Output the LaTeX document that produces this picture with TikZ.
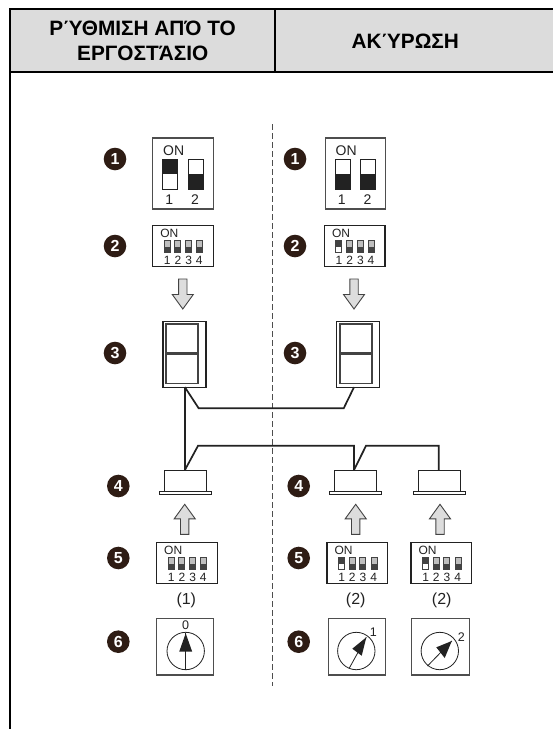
\documentclass[tikz,border=0pt]{standalone}
\usepackage{fontspec}
\setmainfont{Liberation Sans}
\usetikzlibrary{calc}
\definecolor{hdr}{HTML}{DCDCDC}
\definecolor{badgec}{HTML}{2E1C14}
\definecolor{arrowg}{HTML}{DDDDDD}
\definecolor{ink}{HTML}{222222}
\tikzset{
  badge/.style={circle,fill=badgec,text=white,font=\fontsize{16}{16}\selectfont\bfseries,minimum size=22.6pt,inner sep=0pt},
  hdrtext/.style={font=\fontsize{20.8}{25}\selectfont\bfseries,align=center,text=black},
  frameline/.style={line width=2pt,black},
  wire/.style={line width=1.7pt,ink,line join=miter},
  boxline/.style={draw=ink,line width=1.1pt,inner sep=0pt,outer sep=0pt},
  smalltext/.style={font=\fontsize{12}{12}\selectfont,text=ink,inner sep=0pt},
  bigtext/.style={font=\fontsize{14}{14}\selectfont,text=ink,inner sep=0pt},
  captext/.style={font=\fontsize{16}{16}\selectfont,text=ink,inner sep=0pt},
  dialtext/.style={font=\fontsize{12.5}{12.5}\selectfont,text=ink,inner sep=0pt},
  blockarrow/.style={draw=ink!85,line width=.9pt,fill=arrowg,line join=miter},
  dialneedle/.style={fill=ink,draw=none},
}
% 4-way DIP switch: name, x, y of top-left, first switch on (1) or off (0)
\newcommand{\dipfour}[4]{%
  \begin{scope}[shift={(#2,#3)}]
    \node[boxline,anchor=north west,minimum width=60.6pt,minimum height=41pt] (#1) at (0,0) {};
    \node[smalltext] (#1on) at (16.6,8.2) {ON};
    \foreach \i/\sx/\dx in {1/11.4/14.6,2/22/25.3,3/32.6/36,4/44/46.6}{
      \ifnum\i=1 \ifnum#4=1
        \fill[ink!85] (\sx,15.4) rectangle ++(6,6);
        \draw[ink!85,line width=.9pt] (\sx,15.4) rectangle ++(6,12);
      \else
        \fill[black!25] (\sx,15.4) rectangle ++(6,6);
        \fill[ink!85] (\sx,21.4) rectangle ++(6,6);
        \draw[ink!85,line width=.9pt] (\sx,15.4) rectangle ++(6,12);
      \fi\else
        \fill[black!25] (\sx,15.4) rectangle ++(6,6);
        \fill[ink!85] (\sx,21.4) rectangle ++(6,6);
        \draw[ink!85,line width=.9pt] (\sx,15.4) rectangle ++(6,12);
      \fi
      \node[smalltext] (#1d\i) at (\dx,34.6) {\i};
    }
  \end{scope}}
% 2-way DIP switch: name, x, first switch dark top (1) or dark bottom (0)
\newcommand{\diptwo}[3]{%
  \begin{scope}[shift={(#2,138)}]
    \node[boxline,anchor=north west,minimum width=60.4pt,minimum height=71pt,draw=ink!80] (#1) at (0,0) {};
    \node[bigtext] (#1on) at (21,12.7) {ON};
    \draw[ink,line width=.8pt] (10,21.7) rectangle ++(15,29.3);
    \draw[ink,line width=.8pt] (35.6,21.7) rectangle ++(15,29.3);
    \ifnum#3=1 \fill[ink] (10,21.7) rectangle ++(15,14.6);
    \else \fill[ink] (10,36.3) rectangle ++(15,14.7); \fi
    \fill[ink] (35.6,36.3) rectangle ++(15,14.7);
    \node[bigtext] (#1a) at (16.6,62) {1};
    \node[bigtext] (#1b) at (42.3,62) {2};
  \end{scope}}
% block arrow: centre x, tip y, direction (+1 points down, -1 points up)
\newcommand{\blockarr}[3]{%
  \draw[blockarrow] (#1,#2) -- ++(10.5,-#3*14.5) -- ++(-6.3,0) -- ++(0,-#3*15.5) -- ++(-8.4,0) -- ++(0,#3*15.5) -- ++(-6.3,0) -- cycle;}
% panel: name, x
\newcommand{\panelbox}[2]{%
  \node[boxline,anchor=north west,minimum width=43pt,minimum height=65.5pt] (#1) at (#2,321.7) {};
  \node[boxline,anchor=north west,minimum width=32pt,minimum height=29pt,line width=1.5pt,draw=ink!85] (#1up) at (#2+3,324) {};
  \node[boxline,anchor=north west,minimum width=32pt,minimum height=29pt,line width=1.5pt,draw=ink!85] (#1lo) at (#2+3,354.5) {};}
% indoor unit: name, x
\newcommand{\unitbox}[2]{%
  \node[boxline,anchor=north west,minimum width=42.4pt,minimum height=21pt,line width=1pt] (#1) at (#2,470) {};
  \node[boxline,anchor=north west,minimum width=51.6pt,minimum height=3.5pt,line width=.9pt] (#1fl) at (#2-4.6,491) {};}
% dial: name, box x, circle cx, tip, base1, base2, tail
\newcommand{\dialbox}[7]{%
  \node[boxline,anchor=north west,minimum width=57.6pt,minimum height=56.5pt,draw=ink!80] (#1) at (#2,618.5) {};
  \draw[ink,line width=.8pt] (#3,651) circle[radius=18.7];
  \draw[ink,line width=.8pt] #7 -- #4;
  \fill[dialneedle] #4 -- #5 -- #6 -- cycle;}
\begin{document}
\begin{tikzpicture}[x=1pt,y=-1pt]
\useasboundingbox (0,0) rectangle (553,729);
\fill[white] (0,0) rectangle (553,729);
% header
\fill[hdr] (10,9) rectangle (553,72);
\draw[frameline] (553,9) -- (10,9) -- (10,729);
\draw[frameline] (10,72) -- (553,72);
\draw[frameline] (275,9) -- (275,72);
\node[hdrtext] (titleL) at (142.7,41) {ΡΎΘΜΙΣΗ ΑΠΌ ΤΟ\\ΕΡΓΟΣΤΆΣΙΟ};
\node[hdrtext] (titleR) at (405.3,41) {ΑΚΎΡΩΣΗ};
% centre dashed rule
\coordinate (dashtop) at (272,124);
\coordinate (dashbot) at (272,686);
\draw[ink!80,line width=.9pt,dash pattern=on 5.5pt off 3.5pt] (dashtop) -- (dashbot);
% badges
\foreach \n/\x/\y/\t in {bl1/115/159/1,bl2/115/246/2,bl3/115/353/3,bl4/118.3/486/4,bl5/118.3/558/5,bl6/118.3/641.7/6,
  br1/295/159/1,br2/295/246/2,br3/295/353/3,br4/298.7/486/4,br5/298.7/558/5,br6/298.7/641.7/6}{
  \node[badge] (\n) at (\x,\y) {\t};}
% two-way switches
\diptwo{dipAL}{152.7}{1}
\diptwo{dipAR}{325.2}{0}
% four-way switches
\dipfour{dipBL}{152.7}{225.3}{0}
\dipfour{dipBR}{324.4}{225.3}{1}
\dipfour{dipCL}{156.6}{542.4}{0}
\dipfour{dipCM}{327}{542.4}{1}
\dipfour{dipCR}{411}{542.4}{1}
% block arrows
\blockarr{182.8}{309}{1}
\blockarr{354}{309}{1}
\blockarr{184.7}{504.3}{-1}
\blockarr{355.7}{504.3}{-1}
\blockarr{440}{504.3}{-1}
% panels and units
\panelbox{panelL}{163}
\panelbox{panelR}{336.8}
\unitbox{unitL}{164}
\unitbox{unitM}{334}
\unitbox{unitR}{418.3}
% wiring
\coordinate (wa) at (184.9,387.2);
\coordinate (wb) at (198.7,408.3);
\coordinate (wc) at (343.7,408.3);
\coordinate (wd) at (354,387.2);
\coordinate (we) at (184.9,470);
\coordinate (wf) at (198,445.8);
\coordinate (wg) at (354,445.8);
\coordinate (wh) at (354,470);
\coordinate (wi) at (366,445.8);
\coordinate (wj) at (438.7,445.8);
\coordinate (wk) at (438.7,470);
\draw[wire] (wa) -- (wb) -- (wc) -- (wd);
\draw[wire,line width=2pt] (wa) -- (we);
\draw[wire] (we) -- (wf) -- (wg) -- (wh);
\draw[wire] (wh) -- (wi) -- (wj) -- (wk);
% captions
\node[captext] (capL) at (186.3,600.3) {(1)};
\node[captext] (capM) at (355.7,600.3) {(2)};
\node[captext] (capR) at (441.7,600.3) {(2)};
% dials
\dialbox{dialL}{156.2}{185.7}{(185.7,633.3)}{(179.2,651.7)}{(192.2,651.7)}{(185.7,669.7)}
\dialbox{dialM}{328.2}{356.3}{(366.3,637.3)}{(352.3,648.7)}{(361.7,655.7)}{(349.2,668.3)}
\dialbox{dialR}{411.7}{439.8}{(451.8,641)}{(436.3,647.3)}{(444.7,658)}{(427.5,666)}
\node[dialtext] (dialLt) at (185.7,625.3) {0};
\node[dialtext] (dialMt) at (373.3,632) {1};
\node[dialtext] (dialRt) at (461.3,637.3) {2};
\end{tikzpicture}
\end{document}
